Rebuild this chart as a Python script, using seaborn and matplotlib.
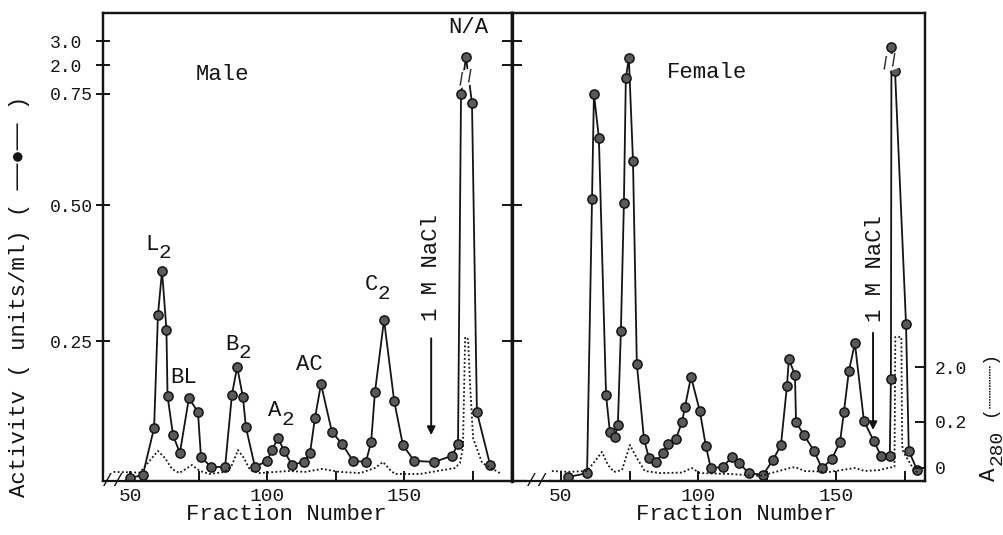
import numpy as np
import pandas as pd
import matplotlib
matplotlib.use("Agg")
import matplotlib.pyplot as plt
import seaborn as sns
from matplotlib.ticker import FixedLocator, FixedFormatter, NullFormatter

# ---------------- data ----------------
male_frac = [50, 54.7, 58.8, 60.2, 61.7, 63.3, 63.7, 65.7, 68.2, 71.5, 74.8, 75.9, 79.6, 84.7, 87.2,
             89.1, 91.2, 92.3, 95.6, 100, 101.8, 104, 106.2, 109.1, 113.5, 115.7, 117.5, 119.7, 123.7,
             127.4, 131.4, 136.1, 138, 139.4, 142.7, 146.4, 149.6, 153.7, 161, 167.5, 169.7, 170.8,
             172.6, 174.8, 176.6, 181.4]
male_act = [0.005, 0.011, 0.095, 0.298, 0.379, 0.27, 0.152, 0.082, 0.05, 0.148, 0.123, 0.043, 0.025,
            0.025, 0.154, 0.204, 0.15, 0.096, 0.025, 0.036, 0.055, 0.077, 0.054, 0.029, 0.034, 0.05,
            0.1125, 0.173, 0.0875, 0.066, 0.036, 0.034, 0.07, 0.159, 0.289, 0.143, 0.064, 0.036, 0.034,
            0.045, 0.066, 0.75, 2.33, 0.73, 0.123, 0.029]

female_frac = [52.5, 59.5, 61.3, 62, 63.8, 66.4, 67.8, 69.6, 70.7, 71.8, 72.9, 73.6, 74.7, 76.2, 77.6,
               80.2, 82, 84.5, 87.1, 88.9, 91.8, 94, 95.1, 97.3, 100.5, 102.7, 104.5, 108.9, 112.2,
               114.7, 118.4, 123.5, 127.1, 130, 132.2, 132.9, 135.1, 135.5, 138.4, 142, 144.9, 148.5,
               151.5, 152.9, 154.7, 156.9, 160.2, 163.8, 166.4, 169.6, 170, 170.2, 171.5, 175.5,
               176.5, 179.5]
female_act = [0.007, 0.014, 0.514, 0.75, 0.651, 0.154, 0.0875, 0.079, 0.1, 0.268, 0.505, 1.44, 2.29,
              0.6, 0.209, 0.075, 0.041, 0.034, 0.05, 0.066, 0.075, 0.105, 0.132, 0.186, 0.125, 0.0625,
              0.023, 0.025, 0.043, 0.032, 0.014, 0.011, 0.0375, 0.064, 0.17, 0.218, 0.189, 0.105,
              0.082, 0.054, 0.023, 0.039, 0.07, 0.123, 0.196, 0.246, 0.107, 0.071, 0.045, 0.045,
              0.182, 2.75, 1.74, 0.281, 0.054, 0.02]

male_a280_frac = [44, 53.6, 58, 60.2, 62.8, 65.3, 68, 72.6, 75.5, 79, 84.7, 87.2, 89.4, 91.6, 93.8,
                  97.4, 108, 113.9, 120, 126.6, 134, 139.4, 142.3, 145, 146.7, 155.8, 168.6, 170.4,
                  171.5, 172.3, 173.4, 174, 175.2, 178.5, 185]
male_a280 = [-0.017, -0.02, 0.043, 0.074, 0.043, -0.004, -0.022, 0.013, -0.013, -0.026, -0.017, 0.013,
             0.078, 0.043, -0.009, -0.022, -0.013, -0.017, -0.004, -0.017, -0.022, 0, 0.026, -0.009,
             -0.026, -0.026, 0, 0.022, 0.09, 2.98, 2.9, 1.6, 0.13, 0.022, -0.022]

female_a280_frac = [46.7, 52.5, 59.5, 62.7, 64.9, 67.1, 69.3, 72.2, 75.1, 77.6, 80.5, 86, 94, 97.6,
                    100.5, 111.5, 122.4, 133.3, 135.1, 138.7, 147.8, 156.9, 160.5, 165.9, 168.8,
                    171.3, 171.6, 173.8, 174.1, 174.5, 178, 180.5]
female_a280 = [-0.013, -0.017, -0.013, 0.035, 0.07, 0.013, -0.017, -0.009, 0.1, 0.043, -0.013, -0.022,
               -0.02, 0, -0.022, -0.026, -0.035, 0, 0.004, -0.013, -0.017, 0, -0.013, -0.009, 0,
               0.005, 2.98, 2.98, 0.1, 0.07, 0, -0.03]

act_ticks = [0.25, 0.50, 0.75, 2.0, 3.0]
act_tick_labels = ["0.25", "0.50", "0.75", "2.0", "3.0"]
a280_ticks = [0, 0.2, 2.0]
a280_tick_labels = ["0", "0.2", "2.0"]
x_ticks = [50, 100, 150]
x_minor_ticks = [75, 125, 175]

# broken (piecewise-linear) axis scales as printed in the figure
act_knots_v = [0, 0.25, 0.5, 0.75, 2.0, 3.0]
act_knots_p = [0, 140, 276, 387, 416, 440]
a280_knots_v = [0, 0.2, 2.0]
a280_knots_p = [13, 59, 114]


def piecewise(kv, kp):
    kv = np.asarray(kv, float)
    kp = np.asarray(kp, float)

    def mk(a, b):
        s0 = (b[1] - b[0]) / (a[1] - a[0])
        s1 = (b[-1] - b[-2]) / (a[-1] - a[-2])

        def f(v):
            v = np.asarray(v, float)
            out = np.interp(v, a, b)
            out = np.where(v < a[0], b[0] + (v - a[0]) * s0, out)
            out = np.where(v > a[-1], b[-1] + (v - a[-1]) * s1, out)
            return out
        return f
    return mk(kv, kp), mk(kp, kv)


act_fwd, act_inv = piecewise(act_knots_v, act_knots_p)
a_fwd, a_inv = piecewise(a280_knots_v, a280_knots_p)

# ---------------- style ----------------
sns.set_theme(style="white")
plt.rcParams["font.family"] = ["Liberation Mono", "DejaVu Sans Mono", "DejaVu Sans"]
plt.rcParams["mathtext.fontset"] = "custom"
plt.rcParams["mathtext.rm"] = "Liberation Mono"
plt.rcParams["mathtext.default"] = "regular"
INK = "#141414"

fig = plt.figure(figsize=(10.04, 5.35), dpi=100)
W, H = 1004, 535
bottom = (H - 481) / H
height = 468 / H
ax1 = fig.add_axes([103 / W, bottom, 409 / W, height])
ax2 = fig.add_axes([512 / W, bottom, 413 / W, height])
ax1b = ax1.twinx()
ax2b = ax2.twinx()

line_kw = dict(color=INK, linewidth=1.3, marker="o", markersize=6.6,
               markerfacecolor="#5a5a5a", markeredgecolor=INK, markeredgewidth=1.1,
               estimator=None, sort=False)
dot_kw = dict(color=INK, linewidth=1.3, linestyle=(0, (1, 1.3)), estimator=None, sort=False)

sns.lineplot(x=male_frac, y=male_act, ax=ax1, **line_kw)
sns.lineplot(x=female_frac, y=female_act, ax=ax2, **line_kw)
sns.lineplot(x=male_a280_frac, y=male_a280, ax=ax1b, **dot_kw)
sns.lineplot(x=female_a280_frac, y=female_a280, ax=ax2b, **dot_kw)

for ax in (ax1, ax2):
    ax.set_yscale("function", functions=(act_fwd, act_inv))
    ax.set_ylim(float(act_inv(0)), float(act_inv(468)))
for ax in (ax1b, ax2b):
    ax.set_yscale("function", functions=(a_fwd, a_inv))
    ax.set_ylim(float(a_inv(0)), float(a_inv(468)))

ax1.set_xlim(40.15, 189.4)
ax2.set_xlim(32.2, 182.4)

for ax in (ax1, ax2, ax1b, ax2b):
    for s in ax.spines.values():
        s.set_color(INK)
        s.set_linewidth(1.6)
    ax.set_xlabel("")
    ax.set_ylabel("")

# x axes
for ax, lx in ((ax1, 0.447), (ax2, 0.542)):
    ax.xaxis.set_major_locator(FixedLocator(x_ticks))
    ax.xaxis.set_minor_locator(FixedLocator(x_minor_ticks))
    ax.tick_params(axis="x", which="both", direction="in", length=7, width=1.4, color=INK,
                   bottom=True, top=False, labelsize=14, labelcolor=INK, pad=5)
    ax.set_xlabel("Fraction Number", fontsize=16, color=INK, va="center")
    ax.xaxis.set_label_coords(lx, -33 / 468)

# left activity axis
ax1.yaxis.set_major_locator(FixedLocator(act_ticks))
ax1.yaxis.set_major_formatter(FixedFormatter(act_tick_labels))
ax1.yaxis.set_minor_locator(FixedLocator([]))
ax1.tick_params(axis="y", which="major", direction="inout", length=10, width=1.4, color=INK,
                left=True, right=False, labelsize=13, labelcolor=INK, pad=33)
for t in ax1.get_yticklabels():
    t.set_horizontalalignment("left")

# middle divider ticks
ax2.yaxis.set_major_locator(FixedLocator([0.25, 0.5, 2.0, 3.0]))
ax2.yaxis.set_major_formatter(NullFormatter())
ax2.yaxis.set_minor_locator(FixedLocator([]))
ax2.tick_params(axis="y", which="major", direction="inout", length=14, width=1.4, color=INK,
                left=True, right=False)
ax2.spines["left"].set_linewidth(2.4)

# A280 axis (right panel only)
ax1b.set_yticks([])
ax1b.yaxis.set_minor_locator(FixedLocator([]))
ax2b.yaxis.set_major_locator(FixedLocator(a280_ticks))
ax2b.yaxis.set_major_formatter(FixedFormatter(a280_tick_labels))
ax2b.yaxis.set_minor_locator(FixedLocator([]))
ax2b.tick_params(axis="y", which="major", direction="in", length=7, width=1.4, color=INK,
                 right=True, left=False, labelsize=13, labelcolor=INK, pad=7)
for ax in (ax1b, ax2b):
    ax.tick_params(axis="x", which="both", top=False)

# ---------------- annotations ----------------
tk = dict(color=INK, fontsize=16, ha="center", va="center")


def sub_label(ax, x, y, main, sub):
    """Peak label with a full-size, lowered subscript as in the print."""
    ax.text(x, y, main, transform=ax.transAxes, **tk)
    ax.annotate(sub, xy=(x, y), xycoords=ax.transAxes, xytext=(9, -6),
                textcoords="offset points", color=INK, fontsize=15, ha="center", va="center")


ax1.text(0.293, 0.868, "Male", transform=ax1.transAxes, **tk)
ax1.text(0.892, 0.968, "N/A", transform=ax1.transAxes, **tk)
sub_label(ax1, 0.120, 0.505, "L", "2")
ax1.text(0.196, 0.222, "BL", transform=ax1.transAxes, **tk)
sub_label(ax1, 0.315, 0.292, "B", "2")
sub_label(ax1, 0.420, 0.150, "A", "2")
ax1.text(0.504, 0.25, "AC", transform=ax1.transAxes, **tk)
sub_label(ax1, 0.656, 0.419, "C", "2")
ax1.text(0.802, 0.457, "1 M NaCl", transform=ax1.transAxes, rotation=90, **tk)
ax2.text(0.472, 0.872, "Female", transform=ax2.transAxes, **tk)
ax2.text(0.879, 0.455, "1 M NaCl", transform=ax2.transAxes, rotation=90, **tk)

arrow = dict(arrowstyle="-|>", color=INK, lw=1.4, mutation_scale=12, shrinkA=0, shrinkB=0)
ax1.annotate("", xy=(159.9, 0.082), xytext=(159.9, 0.255), arrowprops=arrow)
ax2.annotate("", xy=(163.5, 0.091), xytext=(163.5, 0.265), arrowprops=arrow)

# break marks
brk = dict(color=INK, fontsize=12, ha="center", va="center", rotation=20,
           bbox=dict(fc="white", ec="none", pad=0.2))
ax1.text(172.6, 1.44, "//", **brk)
ax2.text(169.8, 2.1, "//", **brk)
for ax, xb in ((ax1, 0.025), (ax2, 0.06)):
    ax.text(xb, 0.0, "//", transform=ax.transAxes, color=INK, fontsize=13, ha="center",
            va="center", bbox=dict(fc="white", ec="none", pad=0.1), clip_on=False, zorder=10)

# axis titles
fig.text(20 / W, 1 - 296 / H, "Activitv ( units/ml) ( ──●── )", rotation=90, ha="center",
         va="center", fontsize=16, color=INK)
fig.text(990 / W, 1 - 474 / H, "A", rotation=90, ha="center", va="center",
         fontsize=16, color=INK)
fig.text(997 / W, 1 - 447 / H, "280", rotation=90, ha="center", va="center",
         fontsize=14, color=INK)
fig.text(990 / W, 1 - 383 / H, "(┈┈┈┈)", rotation=90, ha="center", va="center",
         fontsize=13, color=INK)

fig.savefig("out.png", dpi=100)
